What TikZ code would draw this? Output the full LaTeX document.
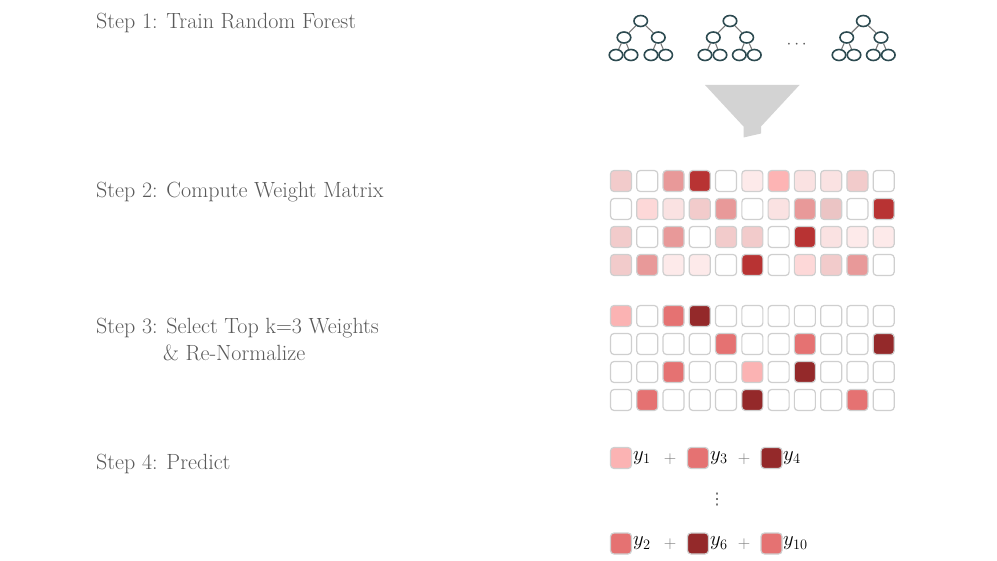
\documentclass[tikz,border=0pt]{standalone}
\usepackage{fontspec}
\newfontfamily\dejavu{DejaVu Sans}
\usetikzlibrary{shapes.geometric}
\definecolor{txt}{HTML}{595959}
\definecolor{treec}{HTML}{2C4A50}
\definecolor{edgec}{HTML}{7A7A7A}
\definecolor{cellbd}{HTML}{CFCFCF}
\definecolor{funnelc}{HTML}{D3D3D3}
\definecolor{cellw}{HTML}{FFFFFF}
\definecolor{cella}{HTML}{F2CBCB}
\definecolor{cellb2}{HTML}{E89999}
\definecolor{cellc}{HTML}{B83333}
\definecolor{celld}{HTML}{FDEAEA}
\definecolor{celle}{HTML}{FDB4B4}
\definecolor{cellf}{HTML}{FAE2E2}
\definecolor{cellg}{HTML}{FDD8D8}
\definecolor{cellh}{HTML}{EBC4C4}
\definecolor{cellp}{HTML}{FBB3B3}
\definecolor{cellm}{HTML}{E57272}
\definecolor{cellk}{HTML}{94292A}
\tikzset{
  steplabel/.style={anchor=west, text=txt, font=\fontsize{22}{26}\selectfont, inner sep=0pt, align=left},
  treenode/.style={ellipse, draw=treec, fill=white, line width=1.6pt, minimum width=13.5pt, minimum height=11pt, inner sep=0pt},
  treeedge/.style={draw=edgec, line width=1.1pt},
  cellbox/.style={draw=cellbd, line width=1.2pt, rounded corners=3.5pt, minimum size=21pt, inner sep=0pt},
  ylab/.style={anchor=west, inner sep=0pt, font=\fontsize{22}{26}\selectfont},
  plus/.style={text=edgec, inner sep=0pt, font=\fontsize{16}{20}\selectfont}
}
\begin{document}
\begin{tikzpicture}[x=1pt,y=-1pt]
\useasboundingbox (0,0) rectangle (997,561);
% step labels
\node[steplabel] (s1) at (96,22.5) {Step 1: Train Random Forest};
\node[steplabel] (s2) at (96,192.5) {Step 2: Compute Weight Matrix};
\node[steplabel] (s3) at (96,328.5) {Step 3: Select Top k=3 Weights};
\node[steplabel] (s3b) at (163,353) {\& Re-Normalize};
\node[steplabel] (s4) at (96,463.5) {Step 4: Predict};
% trees
\foreach \t/\r/\la/\lb/\ka/\kb/\kc/\kd in {1/640.7/624/658.3/616/631/651/665.7, 2/730/713.3/746.7/705/720/739.3/754.3, 3/863.3/846.7/881/839/854/873.3/888.3}{
  \node[treenode] (t\t r) at (\r,21) {};
  \node[treenode] (t\t a) at (\la,37.5) {};
  \node[treenode] (t\t b) at (\lb,37.5) {};
  \node[treenode] (t\t c) at (\ka,55) {};
  \node[treenode] (t\t d) at (\kb,55) {};
  \node[treenode] (t\t e) at (\kc,55) {};
  \node[treenode] (t\t f) at (\kd,55) {};
  \draw[treeedge] (t\t r) -- (t\t a);
  \draw[treeedge] (t\t r) -- (t\t b);
  \draw[treeedge] (t\t a) -- (t\t c);
  \draw[treeedge] (t\t a) -- (t\t d);
  \draw[treeedge] (t\t b) -- (t\t e);
  \draw[treeedge] (t\t b) -- (t\t f);
}
\node[text=txt, inner sep=0pt, font=\fontsize{16}{20}\selectfont] (dots) at (796.7,45) {$\cdots$};
% funnel
\fill[funnelc] (705,85) -- (799.5,85) -- (761,126.5) -- (761,133.5) -- (743.5,137.5) -- (743.5,126.5) -- cycle;
% matrix 1
\foreach \row [count=\r] in {{a,w,b2,c,w,d,e,f,f,a,w},{w,g,f,a,b2,w,f,b2,h,w,c},{a,w,b2,w,a,a,w,c,f,d,d},{a,b2,d,d,w,c,w,g,a,b2,w}}{
  \foreach \col [count=\c] in \row {
    \node[cellbox, fill=cell\col] (A-\r-\c) at ({621+(\c-1)*26.27},{181+(\r-1)*28}) {};
  }
}
% matrix 2
\foreach \row [count=\r] in {{p,w,m,k,w,w,w,w,w,w,w},{w,w,w,w,m,w,w,m,w,w,k},{w,w,m,w,w,p,w,k,w,w,w},{w,m,w,w,w,k,w,w,w,m,w}}{
  \foreach \col [count=\c] in \row {
    \node[cellbox, fill=cell\col] (B-\r-\c) at ({621+(\c-1)*26.27},{316+(\r-1)*28}) {};
  }
}
% predict
\node[cellbox, fill=cellp] (p1) at (621,458) {};
\node[ylab] (y1) at (633,458) {$y_1$};
\node[plus] (pl1) at (670,459) {$+$};
\node[cellbox, fill=cellm] (p2) at (698,458) {};
\node[ylab] (y3) at (710,458) {$y_3$};
\node[plus] (pl2) at (744,459) {$+$};
\node[cellbox, fill=cellk] (p3) at (771.5,458) {};
\node[ylab] (y4) at (783,458) {$y_4$};
\node[text=txt, inner sep=0pt, font=\dejavu\fontsize{16}{18}\selectfont] (vd) at (717,500) {⋮};
\node[cellbox, fill=cellm] (q1) at (621,543.5) {};
\node[ylab] (y2) at (633,543.5) {$y_2$};
\node[plus] (pl3) at (670,544.5) {$+$};
\node[cellbox, fill=cellk] (q2) at (698,543.5) {};
\node[ylab] (y6) at (710,543.5) {$y_6$};
\node[plus] (pl4) at (744,544.5) {$+$};
\node[cellbox, fill=cellm] (q3) at (771.5,543.5) {};
\node[ylab] (y10) at (783,543.5) {$y_{10}$};
\end{tikzpicture}
\end{document}
